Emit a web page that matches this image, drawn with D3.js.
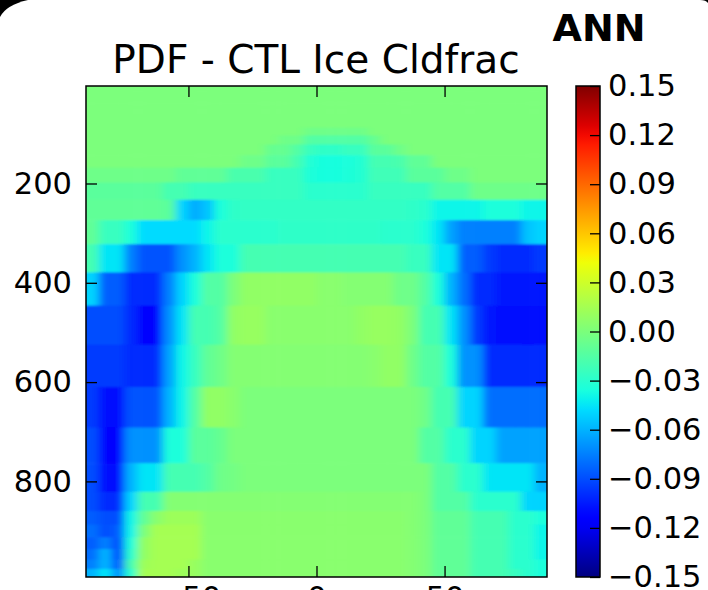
<!DOCTYPE html>
<meta charset="utf-8">
<head>
	<title>PDF - CTL Ice Cldfrac</title>
	<script src="https://cdn.jsdelivr.net/npm/d3@7"></script>
	<style>
		body { margin: 0; background: #000; }
		svg { display: block; }
		text { font-family: "DejaVu Sans", sans-serif; fill: #000; }
	</style>
</head>
<body>
	<svg id="fig" width="708" height="590"></svg>
	<script>
		// latitude cell edges (deg)
		var latEdges = [-90, -85, -80, -75, -70, -65, -60, -55, -50, -45, -40, -35, -30, -25, -20, -15, -10, -5, 0,
			5, 10, 15, 20, 25, 30, 35, 40, 45, 50, 55, 60, 65, 70, 75, 80, 85, 90];
		// model pressure levels (hPa)
		var plev = [3.64, 7.59, 14.36, 24.61, 38.27, 54.60, 72.01, 87.82, 103.32, 121.55, 142.99, 168.23, 197.91,
			232.83, 273.91, 322.24, 379.10, 445.99, 524.69, 609.78, 691.39, 763.40, 820.86, 859.53, 887.02,
			912.64, 936.20, 957.49, 976.33, 992.56];
		// PDF minus CTL ice cloud fraction, in thousandths, one row per layer (top to bottom)
		var diffMilli = [
			[0, 0, 0, 0, 0, 0, 0, 0, 0, 0, 0, 0, 0, 0, 0, 0, 0, 0, 0, 0, 0, 0, 0, 0, 0, 0, 0, 0, 0, 0, 0, 0, 0, 0, 0, 0],
			[0, 0, 0, 0, 0, 0, 0, 0, 0, 0, 0, 0, 0, 0, 0, 0, 0, 0, 0, 0, 0, 0, 0, 0, 0, 0, 0, 0, 0, 0, 0, 0, 0, 0, 0, 0],
			[0, 0, 0, 0, 0, 0, 0, 0, 0, 0, 0, 0, 0, 0, 0, 0, 0, 0, 0, 0, 0, 0, 0, 0, 0, 0, 0, 0, 0, 0, 0, 0, 0, 0, 0, 0],
			[0, 0, 0, 0, 0, 0, 0, 0, 0, 0, 0, 0, 0, 0, 0, 0, 0, 0, 0, 0, 0, 0, 0, 0, 0, 0, 0, 0, 0, 0, 0, 0, 0, 0, 0, 0],
			[0, 0, 0, 0, 0, 0, 0, 0, 0, 0, 0, 0, 0, 0, 0, 0, 0, 0, 0, 0, 0, 0, 0, 0, 0, 0, 0, 0, 0, 0, 0, 0, 0, 0, 0, 0],
			[0, 0, 0, 0, 0, 0, 0, 0, 0, 0, 0, 0, 0, 0, 0, 0, 0, 0, 0, 0, 0, 0, 0, 0, 0, 0, 0, 0, 0, 0, 0, 0, 0, 0, 0, 0],
			[0, 0, 0, 0, 0, 0, 0, 0, 0, 0, 0, 0, 0, 0, 0, 0, 0, 0, 0, 0, 0, 0, 0, 0, 0, 0, 0, 0, 0, 0, 0, 0, 0, 0, 0, 0],
			[0, 0, 0, 0, 0, 0, 0, 0, 0, 0, 0, 0, 0, 0, 0, 0, 0, -5, -5, -5, -5, -5, 0, 0, 0, 0, 0, 0, 0, 0, 0, 0, 0, 0, 0, 0],
			[0, 0, 0, 0, 0, 0, 0, 0, 0, 0, 0, 0, 0, 0, 0, -5, -5, -15, -15, -15, -15, -15, -8, 0, 0, 0, 0, 0, 0, 0, 0, 0, 0, 0, 0, 0],
			[0, 0, 0, 0, 0, 0, 0, 0, 0, 0, 0, 0, 0, 0, -8, -8, -15, -25, -28, -28, -25, -25, -12, -12, -5, 0, 0, 0, 0, 0, 0, 0, 0, 0, 0, 0],
			[0, 0, 0, 0, 0, 0, 0, 0, 0, 0, 0, 0, -5, -5, -12, -12, -20, -33, -36, -36, -35, -32, -20, -20, -18, -10, -10, 0, 0, 0, 0, 0, 0, 0, 0, 0],
			[-5, -5, -5, -5, -5, -5, -5, -10, -10, -10, -10, -18, -18, -18, -25, -25, -25, -34, -36, -36, -34, -32, -22, -22, -22, -12, -12, -12, -5, -5, 0, 0, 0, 0, 0, 0],
			[-12, -12, -12, -12, -12, -12, -20, -20, -25, -25, -25, -25, -25, -25, -25, -25, -25, -30, -30, -30, -30, -30, -25, -25, -25, -25, -25, -15, -15, -15, -5, -5, -5, -5, -5, -5],
			[-10, -10, -10, -10, -10, -10, -12, -50, -62, -55, -35, -28, -27, -27, -27, -27, -27, -27, -27, -27, -27, -27, -27, -27, -27, -28, -30, -40, -40, -40, -40, -35, -35, -35, -40, -40],
			[-10, -25, -25, -35, -48, -48, -48, -48, -48, -40, -30, -30, -30, -30, -30, -28, -28, -28, -28, -28, -28, -28, -28, -30, -30, -30, -35, -45, -65, -75, -75, -75, -75, -75, -55, -50],
			[-20, -45, -45, -75, -88, -88, -88, -70, -60, -45, -35, -35, -20, -20, -20, -20, -20, -20, -20, -20, -20, -20, -20, -20, -20, -25, -25, -45, -45, -85, -85, -95, -100, -100, -100, -95],
			[-50, -85, -85, -100, -100, -100, -75, -50, -35, -15, -15, 0, 8, 8, 8, 8, 8, 8, 5, 5, 3, 3, 3, 3, -5, -5, -15, -35, -60, -80, -100, -100, -105, -105, -105, -105],
			[-90, -90, -90, -100, -112, -112, -70, -45, -20, -20, -15, 8, 10, 10, 5, 5, 5, 5, 5, 5, 5, 8, 10, 10, 8, 0, -20, -20, -45, -70, -95, -105, -108, -108, -110, -108],
			[-95, -95, -95, -100, -100, -100, -65, -40, -25, -10, -5, 3, 3, 3, 3, 3, 3, 3, 3, 3, 3, 3, 5, 8, 8, -5, -15, -15, -35, -70, -70, -100, -100, -100, -100, -100],
			[-95, -110, -110, -88, -88, -88, -60, -40, -15, 8, 8, 5, 0, 0, 0, 0, 0, 0, 0, 0, 0, 0, 0, 0, 0, 0, -5, -20, -20, -50, -50, -80, -80, -80, -80, -80],
			[-90, -115, -115, -70, -70, -70, -35, -35, -12, -12, -8, 0, 0, 0, 0, 0, 0, 0, 0, 0, 0, 0, 0, 0, 0, 0, -15, -15, -30, -30, -50, -50, -65, -65, -65, -65],
			[-90, -110, -110, -60, -45, -45, -20, -20, -20, -15, -5, -3, 0, 0, 0, 0, 0, 0, 0, 0, 0, 0, 0, 0, 0, 0, 0, -15, -15, -30, -30, -45, -45, -45, -45, -60],
			[-90, -100, -100, -50, -20, -20, 3, 3, 3, 3, 3, 3, 3, 3, 3, 3, 3, 3, 3, 3, 3, 3, 3, 3, 3, 3, 0, -15, -15, -15, -30, -30, -30, -30, -50, -50],
			[-85, -90, -90, -40, -10, 5, 12, 12, 12, 5, 5, 5, 5, 5, 5, 5, 5, 5, 5, 5, 5, 5, 5, 5, 5, 3, 0, -10, -10, -10, -20, -20, -20, -30, -30, -35],
			[-80, -90, -85, -40, 0, 15, 15, 15, 15, 5, 5, 5, 5, 5, 5, 5, 5, 5, 5, 5, 5, 5, 5, 5, 5, 3, 0, -10, -10, -10, -20, -20, -20, -30, -30, -40],
			[-85, -75, -90, -35, 8, 15, 15, 15, 15, 5, 5, 5, 5, 5, 5, 5, 5, 5, 5, 5, 5, 5, 5, 5, 5, 3, 0, -10, -10, -10, -20, -20, -20, -30, -30, -40],
			[-80, -60, -90, -30, 8, 15, 15, 15, 15, 5, 5, 5, 5, 5, 5, 5, 5, 5, 5, 5, 5, 5, 5, 5, 5, 3, 0, -10, -10, -10, -20, -20, -20, -30, -30, -40],
			[-75, -60, -85, -20, 12, 15, 15, 15, 10, 5, 5, 5, 5, 5, 5, 5, 5, 5, 5, 5, 5, 5, 5, 5, 5, 3, 0, -10, -10, -10, -20, -20, -20, -30, -30, -35],
			[-60, -45, -70, -30, 15, 15, 15, 12, 10, 5, 5, 5, 5, 5, 5, 5, 5, 5, 5, 5, 5, 5, 5, 5, 5, 3, 0, -10, -10, -10, -20, -20, -20, -25, -30, -35]
		];
		var xTicks = [-50, 0, 50];
		var yTicks = [200, 400, 600, 800];
		var cbTicks = [-0.15, -0.12, -0.09, -0.06, -0.03, 0.00, 0.03, 0.06, 0.09, 0.12, 0.15];

		var svg = d3.select("#fig");
		var defs = svg.append("defs");

		// white page with the rounded corners cut out of the black background
		svg.append("path")
			.attr("d", "M0,17 Q6,5 28,0 L700,0 Q706,0 708,3 L708,590 L0,590 Z")
			.attr("fill", "#fff");

		// jet colormap
		var jr = d3.scaleLinear().domain([0, 0.35, 0.66, 0.89, 1]).range([0, 0, 1, 1, 0.5]).clamp(true),
			jg = d3.scaleLinear().domain([0, 0.125, 0.375, 0.64, 0.91, 1]).range([0, 0, 1, 1, 0, 0]).clamp(true),
			jb = d3.scaleLinear().domain([0, 0.11, 0.34, 0.65, 1]).range([0.5, 1, 1, 0, 0]).clamp(true),
			norm = d3.scaleLinear().domain([-0.15, 0.15]).range([0, 1]).clamp(true);
		function jet(t) {
			return d3.rgb(jr(t) * 255, jg(t) * 255, jb(t) * 255).formatHex();
		}
		function color(v) { return jet(norm(v)); }

		var x = d3.scaleLinear().domain([-90, 90]).range([86, 547]),
			y = d3.scaleLinear().domain([plev[0], plev[plev.length - 1]]).range([86, 577]);

		// cells, smoothed a little in the horizontal like the interpolated image
		defs.append("clipPath").attr("id", "plotclip")
			.append("rect").attr("x", 86).attr("y", 86).attr("width", 461).attr("height", 491);
		defs.append("filter").attr("id", "smooth")
			.attr("x", -0.1).attr("y", -0.1).attr("width", 1.2).attr("height", 1.2)
			.append("feGaussianBlur").attr("stdDeviation", "4 0.8");

		var cells = [];
		diffMilli.forEach(function (row, i) {
			row.forEach(function (v, j) {
				cells.push({ i: i, j: j, v: v / 1000 });
			});
		});
		var nR = diffMilli.length, nC = latEdges.length - 1, pad = 20;

		svg.append("g")
			.attr("clip-path", "url(#plotclip)")
			.append("g")
			.attr("filter", "url(#smooth)")
			.selectAll("rect")
			.data(cells)
			.enter()
			.append("rect")
			.attr("x", function (d) { return x(latEdges[d.j]) - (d.j == 0 ? pad : 0); })
			.attr("y", function (d) { return y(plev[d.i]) - (d.i == 0 ? pad : 0); })
			.attr("width", function (d) {
				return x(latEdges[d.j + 1]) - x(latEdges[d.j]) + 0.6 + (d.j == 0 || d.j == nC - 1 ? pad : 0);
			})
			.attr("height", function (d) {
				return y(plev[d.i + 1]) - y(plev[d.i]) + 0.6 + (d.i == 0 || d.i == nR - 1 ? pad : 0);
			})
			.attr("fill", function (d) { return color(d.v); });

		// axes, ticks pointing inward on all four sides
		var fontSize = "30.5px";
		svg.append("g")
			.attr("transform", "translate(0,577)")
			.call(d3.axisBottom(x).tickValues(xTicks).tickSize(-11).tickPadding(9));
		svg.append("g")
			.attr("transform", "translate(0,86)")
			.call(d3.axisTop(x).tickValues(xTicks).tickSize(-11).tickFormat(""));
		svg.append("g")
			.attr("transform", "translate(86,0)")
			.call(d3.axisLeft(y).tickValues(yTicks).tickSize(-11).tickPadding(14));
		svg.append("g")
			.attr("transform", "translate(547,0)")
			.call(d3.axisRight(y).tickValues(yTicks).tickSize(-11).tickFormat(""));

		svg.selectAll(".domain").remove();
		svg.selectAll(".tick line").attr("stroke", "#000").attr("stroke-width", 1.3);
		svg.selectAll(".tick text")
			.attr("fill", "#000")
			.attr("font-family", "DejaVu Sans")
			.attr("font-size", fontSize);

		svg.append("rect")
			.attr("x", 86).attr("y", 86)
			.attr("width", 461).attr("height", 491)
			.attr("fill", "none")
			.attr("stroke", "#000")
			.attr("stroke-width", 1.5);

		// colorbar
		var cbX = 576, cbW = 24;
		var cy = d3.scaleLinear().domain([-0.15, 0.15]).range([577, 86]);
		var grad = defs.append("linearGradient")
			.attr("id", "jetgrad")
			.attr("x1", 0).attr("y1", 1).attr("x2", 0).attr("y2", 0);
		grad.selectAll("stop")
			.data(d3.range(0, 1.0001, 0.02))
			.enter()
			.append("stop")
			.attr("offset", function (d) { return d; })
			.attr("stop-color", function (d) { return jet(d); });

		svg.append("rect")
			.attr("x", cbX).attr("y", 86)
			.attr("width", cbW).attr("height", 491)
			.attr("fill", "url(#jetgrad)");

		var gc = svg.append("g")
			.attr("transform", "translate(" + (cbX + cbW) + ",0)")
			.call(d3.axisRight(cy).tickValues(cbTicks).tickSize(-10).tickPadding(8).tickFormat(d3.format(".2f")));
		gc.select(".domain").remove();
		gc.selectAll(".tick line").attr("stroke", "#000").attr("stroke-width", 1.3);
		gc.selectAll(".tick text")
			.attr("fill", "#000")
			.attr("font-family", "DejaVu Sans")
			.attr("font-size", fontSize);

		svg.append("rect")
			.attr("x", cbX).attr("y", 86)
			.attr("width", cbW).attr("height", 491)
			.attr("fill", "none")
			.attr("stroke", "#000")
			.attr("stroke-width", 1.5);

		// titles
		svg.append("text")
			.attr("x", 316).attr("y", 73)
			.attr("text-anchor", "middle")
			.attr("font-size", "39px")
			.text("PDF - CTL Ice Cldfrac");

		svg.append("text")
			.attr("x", 599).attr("y", 41)
			.attr("text-anchor", "middle")
			.attr("font-size", "38px")
			.attr("font-weight", "bold")
			.text("ANN");
	</script>
</body>
